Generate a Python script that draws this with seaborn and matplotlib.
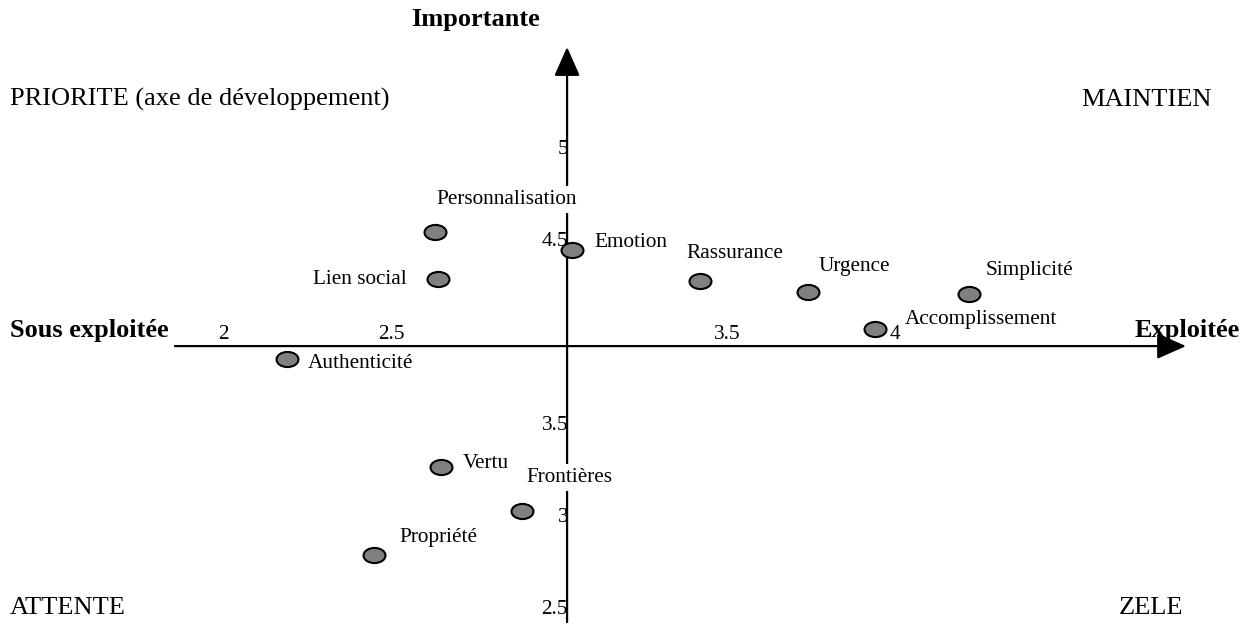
import numpy as np
import pandas as pd
import seaborn as sns
import matplotlib.pyplot as plt
from matplotlib.path import Path
from matplotlib.transforms import Affine2D

# Données : exploitation (x) et importance (y)
dimensions = ['Personnalisation', 'Lien social', 'Emotion', 'Rassurance', 'Urgence',
              'Simplicité', 'Accomplissement', 'Authenticité', 'Vertu', 'Frontières', 'Propriété']
exploitation = [2.63, 2.64, 3.04, 3.42, 3.74, 4.22, 3.94, 2.19, 2.65, 2.89, 2.45]
importance = [4.54, 4.28, 4.44, 4.27, 4.21, 4.20, 4.01, 3.85, 3.26, 3.02, 2.78]

# Décalage des étiquettes (pixels)
label_dx = [72, -78, 58, 35, 47, 61, 106, 74, 44, 47, 64]
label_dy = [32, 0, 8, 28, 26, 24, 10, -5, 4, 34, 18]

x_ticks = [2, 2.5, 3.5, 4]
y_ticks = [5, 4.5, 3.5, 3, 2.5]

# Croisement des axes
x_cross = 3.024
y_cross = 3.918
x_axis_range = (1.857, 4.866)
y_axis_range = (2.418, 5.543)

df = pd.DataFrame({'dimension': dimensions, 'exploitation': exploitation, 'importance': importance})

sns.set_style('white')
plt.rcParams['font.family'] = ['Liberation Serif', 'DejaVu Serif']
plt.rcParams['text.color'] = 'black'

fig = plt.figure(figsize=(12.55, 6.24), dpi=100)
ax = fig.add_axes([0, 0, 1, 1])
ax.set_xlim(1.3363, 5.0714)
ax.set_ylim(2.4076, 5.7989)
ax.axis('off')

# Axes avec flèches
arrow = dict(arrowstyle='-|>,head_length=0.9,head_width=0.4', lw=1.6, color='black',
             mutation_scale=20, shrinkA=0, shrinkB=0)
ax.annotate('', xy=(x_axis_range[1], y_cross), xytext=(x_axis_range[0], y_cross), arrowprops=arrow, zorder=1)
ax.annotate('', xy=(x_cross, y_axis_range[1]), xytext=(x_cross, y_axis_range[0]), arrowprops=arrow, zorder=1)

# Graduations
for t in x_ticks:
    ax.annotate(f'{t:g}', xy=(t, y_cross), xytext=(0, 7), textcoords='offset pixels',
                ha='center', va='baseline', fontsize=15.3, color='black', zorder=2)
for t in y_ticks:
    ax.annotate(f'{t:g}', xy=(x_cross, t), xytext=(1, -3), textcoords='offset pixels',
                ha='right', va='center', fontsize=15.3, color='black', zorder=2)

# Points en ellipse
circle = Path.unit_circle()
ellipse = Path(Affine2D().scale(1.45, 1.0).transform(circle.vertices), circle.codes)
sns.scatterplot(data=df, x='exploitation', y='importance', marker=ellipse, s=250,
                color='#808080', edgecolor='black', linewidth=1.5, ax=ax, zorder=3, legend=False)

for name, x, y, dx, dy in zip(dimensions, exploitation, importance, label_dx, label_dy):
    ax.annotate(name, xy=(x, y), xytext=(dx, dy), textcoords='offset pixels',
                ha='center', va='center', fontsize=15.3, color='black', zorder=4,
                bbox=dict(boxstyle='square,pad=0.18', fc='white', ec='none'))

# Titres des axes et des quadrants
fig.text(0.3785, 0.968, 'Importante', ha='center', va='center', fontsize=19, fontweight='bold')
fig.text(0.008, 0.4696, 'Sous exploitée', ha='left', va='center', fontsize=19, fontweight='bold')
fig.text(0.988, 0.4696, 'Exploitée', ha='right', va='center', fontsize=19, fontweight='bold')
fig.text(0.008, 0.840, 'PRIORITE (axe de développement)', ha='left', va='center', fontsize=19)
fig.text(0.9657, 0.840, 'MAINTIEN', ha='right', va='center', fontsize=19)
fig.text(0.008, 0.0256, 'ATTENTE', ha='left', va='center', fontsize=19)
fig.text(0.9426, 0.0256, 'ZELE', ha='right', va='center', fontsize=19)

fig.savefig('out.png', dpi=100, facecolor='white')
